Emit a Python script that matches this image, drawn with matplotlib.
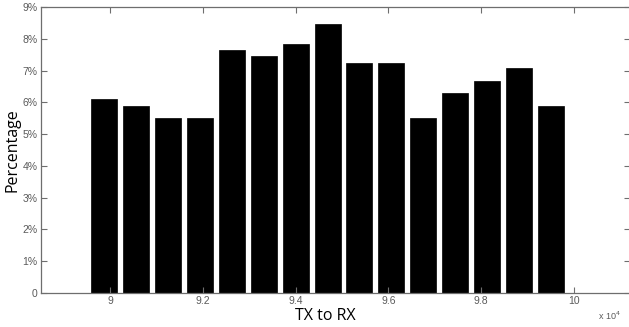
import matplotlib
matplotlib.use("Agg")
import matplotlib.pyplot as plt

# bin centers (TX to RX) and percentage per bin
bin_centers = [89875, 90563, 91250, 91938, 92625, 93313, 94000, 94688,
               95375, 96063, 96750, 97438, 98125, 98813, 99500]
percentages = [6.09, 5.87, 5.50, 5.50, 7.66, 7.45, 7.84, 8.45,
               7.25, 7.25, 5.50, 6.28, 6.67, 7.07, 5.87]
x_ticks = [9.0, 9.2, 9.4, 9.6, 9.8, 10.0]
x_tick_labels = ["9", "9.2", "9.4", "9.6", "9.8", "10"]
y_ticks = [0, 1, 2, 3, 4, 5, 6, 7, 8, 9]
y_tick_labels = ["0", "1%", "2%", "3%", "4%", "5%", "6%", "7%", "8%", "9%"]

W, H = 629, 327
fig = plt.figure(figsize=(W / 100, H / 100), dpi=100)
left_px, right_px, top_px, bot_px = 41, 630, 7, 293
ax = fig.add_axes([left_px / W, 1 - bot_px / H, (right_px - left_px) / W, (bot_px - top_px) / H])

xs = [c / 1e4 for c in bin_centers]
ax.bar(xs, percentages, width=0.0560, color="black", edgecolor="black", linewidth=0.5)

# 9 at px 110, 10 at px 574
ppu = 464.0
ax.set_xlim(9 - (110 - left_px) / ppu, 9 + (right_px - 110) / ppu)
ax.set_ylim(0, 9)
ax.set_xticks(x_ticks)
ax.set_xticklabels(x_tick_labels)
ax.set_yticks(y_ticks)
ax.set_yticklabels(y_tick_labels)

gray = "#5a5a5a"
for s in ax.spines.values():
    s.set_color("#6e6e6e")
    s.set_linewidth(0.9)
ax.tick_params(direction="in", length=4, width=0.8, color="#6e6e6e",
               labelcolor=gray, labelsize=7.5, top=True, right=True,
               pad=2.5, labelfontfamily="Liberation Sans")

fig.text(325 / W, 1 - 320 / H, "TX to RX", fontsize=11.5, family="Open Sans",
         ha="center", va="baseline")
fig.text(13 / W, 1 - 150 / H, "Percentage", fontsize=11.5, family="Open Sans",
         ha="center", va="center", rotation=90)

fig.text(598 / W, 1 - 316 / H, r"x 10$^4$", fontsize=6.5, color=gray,
         family="Liberation Sans", va="center", ha="left")

fig.savefig("out.png", dpi=100)
